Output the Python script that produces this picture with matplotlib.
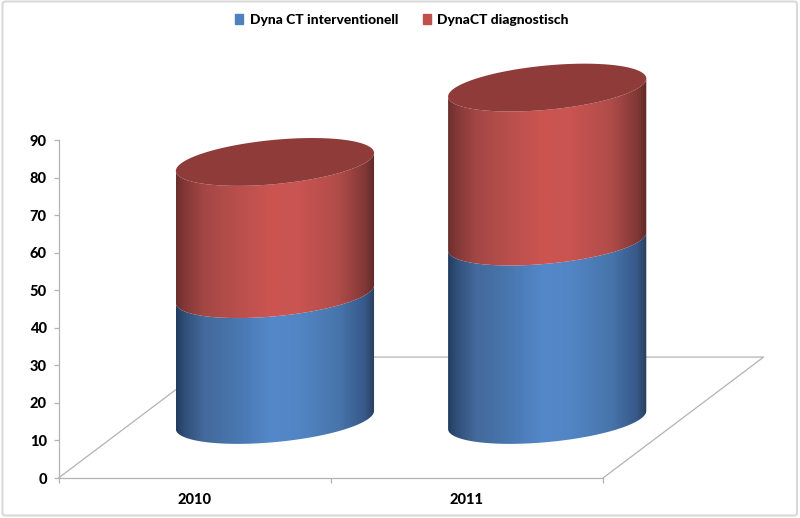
#!/usr/bin/env python3
"""Stacked 3D-look cylinder chart, Dyna CT per year."""
import numpy as np
import matplotlib
matplotlib.use("Agg")
import matplotlib.pyplot as plt
from matplotlib.colors import LinearSegmentedColormap
from matplotlib.patches import FancyBboxPatch, Patch, PathPatch, Polygon
from matplotlib.path import Path

plt.rcParams["font.family"] = ["Lato", "DejaVu Sans"]
plt.rcParams["font.weight"] = "black"

# ── Data ──────────────────────────────────────────────────────────────────
years = ["2010", "2011"]
interventionell = [33.5, 47.5]
diagnostisch = [35.2, 41]
y_ticks = list(range(0, 100, 10))
series_names = ["Dyna CT interventionell", "DynaCT diagnostisch"]

# ── Look of the fake 3D ───────────────────────────────────────────────────
W, H = 800, 518
AX_L, AX_R, AX_B, AX_T = 58.5, 603, 478, 140  # axes box in pixels
GREY = "#b3b3b3"
BLUE = "#4f81bd"
RED = "#c0504d"
LID = "#8e3b39"
DEPTH_X, DEPTH_Y = 0.59, 32.2   # floor depth in data units
RX = 0.364                      # cylinder radius, x units
RY = 5.9                        # ellipse half height, y units
TILT = 2.4                      # ellipse rise over one radius, y units

blue_cmap = LinearSegmentedColormap.from_list("b", [
    (0, "#213c5e"), (0.04, "#2f4f78"), (0.14, "#44699b"), (0.3, "#4876ae"),
    (0.48, "#5588ca"), (0.62, "#5285c4"), (0.82, "#4775ab"), (0.95, "#38598a"),
    (1, "#293f5e")])
red_cmap = LinearSegmentedColormap.from_list("r", [
    (0, "#6b2f2d"), (0.04, "#823836"), (0.14, "#a34745"), (0.3, "#b84f4c"),
    (0.48, "#cc5551"), (0.62, "#c95451"), (0.82, "#b04c49"), (0.95, "#823836"),
    (1, "#5f2a28")])


def front_arc(cx, cy, reverse=False):
    # lower half of the tilted ellipse, left to right
    t = np.linspace(np.pi, 0, 80)
    x = cx + RX * np.cos(t)
    y = cy - RY * np.sin(t) + TILT * np.cos(t)
    pts = np.column_stack([x, y])
    return pts[::-1] if reverse else pts


def draw_segment(ax, cx, y0, y1, cmap):
    verts = np.vstack([front_arc(cx, y0), front_arc(cx, y1, reverse=True)])
    clip = PathPatch(Path(np.vstack([verts, verts[:1]]), closed=True),
                     transform=ax.transData, fc="none", ec="none")
    ax.add_patch(clip)
    im = ax.imshow(np.linspace(0, 1, 256)[None, :], cmap=cmap, aspect="auto",
                   extent=[cx - RX, cx + RX, y0 - 10, y1 + 10], zorder=3,
                   interpolation="bilinear")
    im.set_clip_box(fig.bbox)
    im.set_clip_path(clip)


def draw_lid(ax, cx, cy):
    t = np.linspace(0, 2 * np.pi, 160)
    pts = np.column_stack([cx + RX * np.cos(t),
                           cy - RY * np.sin(t) + TILT * np.cos(t)])
    ax.add_patch(Polygon(pts, closed=True, fc=LID, ec="none", zorder=4,
                         clip_on=False))


fig = plt.figure(figsize=(W / 100, H / 100), dpi=100, facecolor="white")
ax = fig.add_axes([AX_L / W, 1 - AX_B / H, (AX_R - AX_L) / W, (AX_B - AX_T) / H])
ax.patch.set_visible(False)

# floor of the 3D box
floor_x = [0, DEPTH_X, 2 + DEPTH_X, 2]
floor_y = [0, DEPTH_Y, DEPTH_Y, 0]
ax.plot(floor_x, floor_y, color=GREY, lw=0.9, clip_on=False, zorder=1)

# cylinders
for i in range(len(years)):
    cx = i + 0.5 + DEPTH_X / 2
    base = DEPTH_Y * 0.48
    top_blue = base + interventionell[i]
    top_red = top_blue + diagnostisch[i]
    draw_segment(ax, cx, base, top_blue, blue_cmap)
    draw_segment(ax, cx, top_blue, top_red, red_cmap)
    draw_lid(ax, cx, top_red)

ax.set_xlim(0, 2)
ax.set_ylim(0, 90)
ax.set_yticks(y_ticks)
ax.set_xticks([0, 1, 2])
ax.set_xticklabels([])
ax.set_xticks([0.5, 1.5], labels=years, minor=True)
ax.tick_params(axis="x", which="minor", length=0, pad=11, labelsize=10.5)
ax.tick_params(axis="x", which="major", length=3.5, width=0.9, color=GREY)
ax.tick_params(axis="y", length=3.5, width=0.9, color=GREY, pad=5, labelsize=10.5)
for side in ["top", "right"]:
    ax.spines[side].set_visible(False)
for side in ["left", "bottom"]:
    ax.spines[side].set_color(GREY)
    ax.spines[side].set_linewidth(0.9)

handles = [Patch(color=BLUE, label=series_names[0]),
           Patch(color=RED, label=series_names[1])]
fig.legend(handles=handles, loc="center", bbox_to_anchor=(402 / W, 1 - 20 / H),
           ncol=2, frameon=False, fontsize=10, handlelength=0.58, handleheight=0.7,
           handletextpad=0.45, columnspacing=1.8, borderpad=0)

# chart frame
fig.add_artist(FancyBboxPatch((2.5 / W, 2.5 / H), 794.5 / W, 514 / H,
                              boxstyle="round,pad=0,rounding_size=0.004",
                              transform=fig.transFigure, fc="none",
                              ec="#d9d9d9", lw=1.5))

fig.savefig("out.png", dpi=100)
